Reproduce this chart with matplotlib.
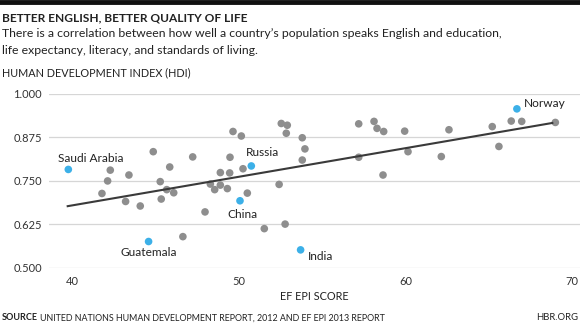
import numpy as np
import matplotlib
matplotlib.use("Agg")
import matplotlib.pyplot as plt
from matplotlib.lines import Line2D

# EF EPI score vs. Human Development Index
epi_gray = [41.76, 42.10, 42.26, 43.18, 43.38, 44.06, 44.84, 45.26, 45.32, 45.65,
            45.83, 46.07, 46.62, 47.21, 47.95, 48.27, 48.53, 48.87, 48.87, 49.29,
            49.43, 49.45, 49.63, 50.13, 50.23, 50.49, 51.51, 52.40, 52.53, 52.76,
            52.89, 52.83, 53.79, 53.95, 53.79, 57.18, 57.18, 58.10, 58.28, 58.68,
            58.64, 59.94, 60.14, 62.14, 62.60, 65.20, 65.60, 66.34, 66.97, 68.99]
hdi_gray = [0.714, 0.750, 0.781, 0.691, 0.767, 0.678, 0.834, 0.748, 0.698, 0.725,
            0.790, 0.716, 0.590, 0.819, 0.661, 0.741, 0.725, 0.774, 0.738, 0.728,
            0.773, 0.818, 0.892, 0.879, 0.785, 0.715, 0.613, 0.740, 0.915, 0.626,
            0.910, 0.887, 0.874, 0.842, 0.810, 0.914, 0.818, 0.921, 0.901, 0.892,
            0.767, 0.893, 0.834, 0.820, 0.897, 0.906, 0.849, 0.922, 0.921, 0.918]

countries = ["Saudi Arabia", "Guatemala", "China", "Russia", "India", "Norway"]
epi_hl = [39.74, 44.56, 50.05, 50.73, 53.69, 66.68]
hdi_hl = [0.783, 0.576, 0.693, 0.793, 0.552, 0.957]

# trend line endpoints (EPI, HDI)
trend_epi = [39.64, 68.87]
trend_hdi = [0.677, 0.917]

y_ticks = [0.500, 0.625, 0.750, 0.875, 1.000]
x_ticks = [40, 50, 60, 70]

GRAY = "#8e8e8e"
BLUE = "#3cb0e8"
TEXT = "#222222"
FONT = "Lato"

plt.rcParams["font.family"] = [FONT, "DejaVu Sans"]

fig = plt.figure(figsize=(5.8, 3.26), dpi=100)
fig.patch.set_facecolor("white")

# top rule
fig.add_artist(Line2D([0, 1], [0.995, 0.995], transform=fig.transFigure,
                      color="#111111", lw=3.5))

fig.text(0.003, 0.945, "BETTER ENGLISH, BETTER QUALITY OF LIFE", fontsize=8.6,
         fontweight="bold", color=TEXT, va="center", ha="left")
fig.text(0.003, 0.897,
         "There is a correlation between how well a country\u2019s population speaks English and education,",
         fontsize=8.8, color=TEXT, va="center", ha="left")
fig.text(0.003, 0.846, "life expectancy, literacy, and standards of living.",
         fontsize=8.8, color=TEXT, va="center", ha="left")
fig.text(0.003, 0.776, "HUMAN DEVELOPMENT INDEX (HDI)", fontsize=7.8,
         color=TEXT, va="center", ha="left")

ax = fig.add_axes([0.0845, 0.178, 0.9155, 0.534])
ax.set_xlim(38.58, 70.47)
ax.set_ylim(0.5, 1.0)
ax.set_yticks(y_ticks)
ax.set_yticklabels([f"{v:.3f}" for v in y_ticks])
ax.set_xticks(x_ticks)
for s in ax.spines.values():
    s.set_visible(False)
ax.grid(axis="y", color="#d6d6d6", lw=0.9, zorder=0)
ax.set_axisbelow(True)
ax.tick_params(axis="both", length=0, labelsize=8, colors="#333333")
ax.tick_params(axis="y", pad=5)
ax.tick_params(axis="x", pad=6)
for lab in ax.get_yticklabels() + ax.get_xticklabels():
    lab.set_clip_on(False)

ax.scatter(epi_gray, hdi_gray, s=30, color=GRAY, edgecolors="none", zorder=3, clip_on=False)
ax.plot(trend_epi, trend_hdi, color="#3a3a3a", lw=1.5, zorder=4, solid_capstyle="butt")
ax.scatter(epi_hl, hdi_hl, s=30, color=BLUE, edgecolors="none", zorder=5, clip_on=False)

offsets = {
    "Saudi Arabia": (16, 4, "center", "bottom"),
    "Guatemala": (0, -4, "center", "top"),
    "China": (2, -6, "center", "top"),
    "Russia": (8, 6, "center", "bottom"),
    "India": (5, -1, "left", "top"),
    "Norway": (5, 0, "left", "bottom"),
}
for name, x, y in zip(countries, epi_hl, hdi_hl):
    dx, dy, ha, va = offsets[name]
    ax.annotate(name, (x, y), xytext=(dx, dy), textcoords="offset points",
                ha=ha, va=va, fontsize=8.6, color=TEXT, zorder=6)

ax.set_xlabel("EF EPI SCORE", fontsize=7.8, color=TEXT, labelpad=3)

fig.text(0.003, 0.025, "SOURCE", fontsize=6.5, fontweight="bold", color=TEXT,
         va="center", ha="left")
fig.text(0.069, 0.025, "UNITED NATIONS HUMAN DEVELOPMENT REPORT, 2012 AND EF EPI 2013 REPORT",
         fontsize=6.4, color=TEXT, va="center", ha="left")
fig.text(0.997, 0.025, "HBR.ORG", fontsize=6.8, color=TEXT, va="center", ha="right")

fig.savefig("out.png", dpi=100, facecolor="white")
